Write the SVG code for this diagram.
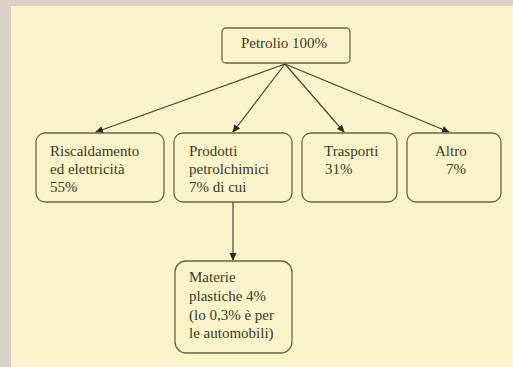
<svg xmlns="http://www.w3.org/2000/svg" width="513" height="367" viewBox="0 0 513 367">
<defs>
<marker id="ah" markerWidth="8" markerHeight="8" refX="7" refY="4" orient="auto" markerUnits="userSpaceOnUse">
<path d="M0,0.5 L8,4 L0,7.5 Z" fill="#2E2A1E"/>
</marker>
</defs>
<style>
.box{fill:#FBF3C9;stroke:#6E6446;stroke-width:1.3}
text{font-family:'Liberation Serif','Times New Roman',serif;font-size:15px;fill:#3E3828}
.c{stroke:#4A4330;stroke-width:1.2;fill:none;marker-end:url(#ah)}
</style>
<rect x="0" y="0" width="513" height="367" fill="#D9D0C6"/>
<rect x="11" y="6" width="502" height="361" fill="#FBF3C9"/>
<g id="connectors">
<line class="c" x1="285" y1="64" x2="96" y2="132"/>
<line class="c" x1="285" y1="64" x2="233" y2="132"/>
<line class="c" x1="285" y1="64" x2="344" y2="132"/>
<line class="c" x1="285" y1="64" x2="449" y2="132"/>
<line class="c" x1="233" y1="202" x2="233" y2="260"/>
</g>
<g id="petrolio">
<rect class="box" x="222" y="28" width="128" height="35" rx="4"/>
<text x="284" y="48" text-anchor="middle">Petrolio 100%</text>
</g>
<g id="riscaldamento">
<rect class="box" x="36" y="133" width="128" height="69" rx="9"/>
<text x="50" y="156">Riscaldamento</text>
<text x="50" y="174">ed elettricità</text>
<text x="50" y="192">55%</text>
</g>
<g id="prodotti">
<rect class="box" x="174" y="133" width="118" height="69" rx="9"/>
<text x="189" y="156">Prodotti</text>
<text x="189" y="174">petrolchimici</text>
<text x="189" y="192">7% di cui</text>
</g>
<g id="trasporti">
<rect class="box" x="302" y="133" width="95" height="69" rx="9"/>
<text x="324" y="156">Trasporti</text>
<text x="325" y="174">31%</text>
</g>
<g id="altro">
<rect class="box" x="407" y="133" width="94" height="69" rx="9"/>
<text x="435" y="156">Altro</text>
<text x="446" y="174">7%</text>
</g>
<g id="materie">
<rect class="box" x="175" y="261" width="117" height="92" rx="11"/>
<text x="189" y="282">Materie</text>
<text x="189" y="301">plastiche 4%</text>
<text x="189" y="320">(lo 0,3% è per</text>
<text x="189" y="338">le automobili)</text>
</g>
</svg>
